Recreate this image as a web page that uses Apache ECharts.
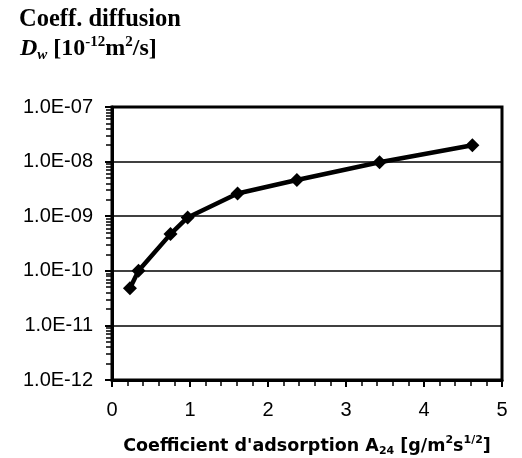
<!DOCTYPE html>
<html>
<head>
<meta charset="utf-8">
<script src="https://cdn.jsdelivr.net/npm/echarts@6/dist/echarts.min.js"></script>
<style>
  html, body { margin: 0; padding: 0; background: #fff; }
  #chart { width: 522px; height: 458px; }
</style>
</head>
<body>
<div id="chart"></div>
<script>
// A24 adsorption coefficient vs diffusion coefficient Dw (log scale)
const adsorption = [0.23, 0.34, 0.75, 0.97, 1.61, 2.37, 3.43, 4.62]
const diffusion = [4.8e-11, 1.0e-10, 4.7e-10, 9.5e-10, 2.6e-9, 4.6e-9, 9.7e-9, 2.0e-8]
const xTicks = [0, 1, 2, 3, 4, 5]
const yTicks = ['1.0E-12', '1.0E-11', '1.0E-10', '1.0E-09', '1.0E-08', '1.0E-07']

const chart = echarts.init(document.getElementById('chart'), null, { renderer: 'canvas' })

const formatExp = (value) => {
  const exp = Math.round(Math.log10(value))
  const label = '1.0E-' + String(-exp).padStart(2, '0')
  return yTicks.includes(label) ? label : ''
}

const nameFont = { fontWeight: 'bold', fontFamily: '"DejaVu Sans", sans-serif', color: '#000' }

chart.setOption({
  animation: false,
  backgroundColor: '#fff',
  graphic: [
    {
      type: 'text',
      left: 19,
      top: 7,
      style: {
        text: 'Coeff. diffusion',
        font: 'bold 24.5px "Liberation Serif", serif',
        fill: '#000',
      },
    },
    {
      type: 'text',
      left: 20,
      top: 35,
      style: {
        text: '{d|D}{w|w}{b| [10}{sup|-12}{b|m}{sup|2}{b|/s]}',
        fill: '#000',
        rich: {
          d: { font: 'italic bold 24px "Liberation Serif", serif', lineHeight: 28 },
          w: { font: 'italic bold 15px "Liberation Serif", serif', lineHeight: 13, verticalAlign: 'bottom' },
          b: { font: 'bold 24px "Liberation Serif", serif', lineHeight: 28 },
          sup: { font: 'bold 15px "Liberation Serif", serif', lineHeight: 15, verticalAlign: 'top' },
        },
      },
    },
  ],
  grid: {
    left: 112,
    right: 20,
    top: 107,
    bottom: 78,
    show: true,
    borderColor: '#000',
    borderWidth: 3,
    containLabel: false,
    outerBoundsMode: 'none',
  },
  xAxis: {
    type: 'value',
    min: xTicks[0],
    max: xTicks[xTicks.length - 1],
    interval: 1,
    name: '{n|Coefficient d\'adsorption A}{sub|24}{n| [g/m}{sup|2}{n|s}{sup|1/2}{n|]}',
    nameLocation: 'middle',
    nameGap: 55,
    nameTextStyle: {
      rich: {
        n: { ...nameFont, fontSize: 17.5, lineHeight: 22 },
        sub: { ...nameFont, fontSize: 11, lineHeight: 11, verticalAlign: 'bottom' },
        sup: { ...nameFont, fontSize: 11, lineHeight: 11, verticalAlign: 'top' },
      },
    },
    axisLine: { lineStyle: { color: '#000', width: 3 } },
    axisTick: { length: 7, lineStyle: { color: '#000', width: 2 } },
    minorTick: { show: true, splitNumber: 5, length: 6, lineStyle: { color: '#000', width: 1.5 } },
    splitLine: { show: false },
    axisLabel: {
      color: '#000',
      fontSize: 20,
      fontFamily: '"Liberation Sans", Arial, sans-serif',
      margin: 20,
    },
  },
  yAxis: {
    type: 'log',
    logBase: 10,
    min: 1e-12,
    max: 1e-7,
    axisLine: { show: true, lineStyle: { color: '#000', width: 3 } },
    axisTick: { show: true, length: 7, lineStyle: { color: '#000', width: 2 } },
    minorTick: { show: true, splitNumber: 9, length: 6, lineStyle: { color: '#000', width: 1.5 } },
    splitLine: { show: true, lineStyle: { color: '#000', width: 1.5 } },
    axisLabel: {
      color: '#000',
      fontSize: 20,
      fontFamily: '"Liberation Sans", Arial, sans-serif',
      margin: 19,
      formatter: formatExp,
    },
  },
  series: [
    {
      type: 'line',
      data: adsorption.map((x, i) => [x, diffusion[i]]),
      symbol: 'diamond',
      symbolSize: 14,
      lineStyle: { color: '#000', width: 4.5 },
      itemStyle: { color: '#000' },
    },
  ],
})
</script>
</body>
</html>
